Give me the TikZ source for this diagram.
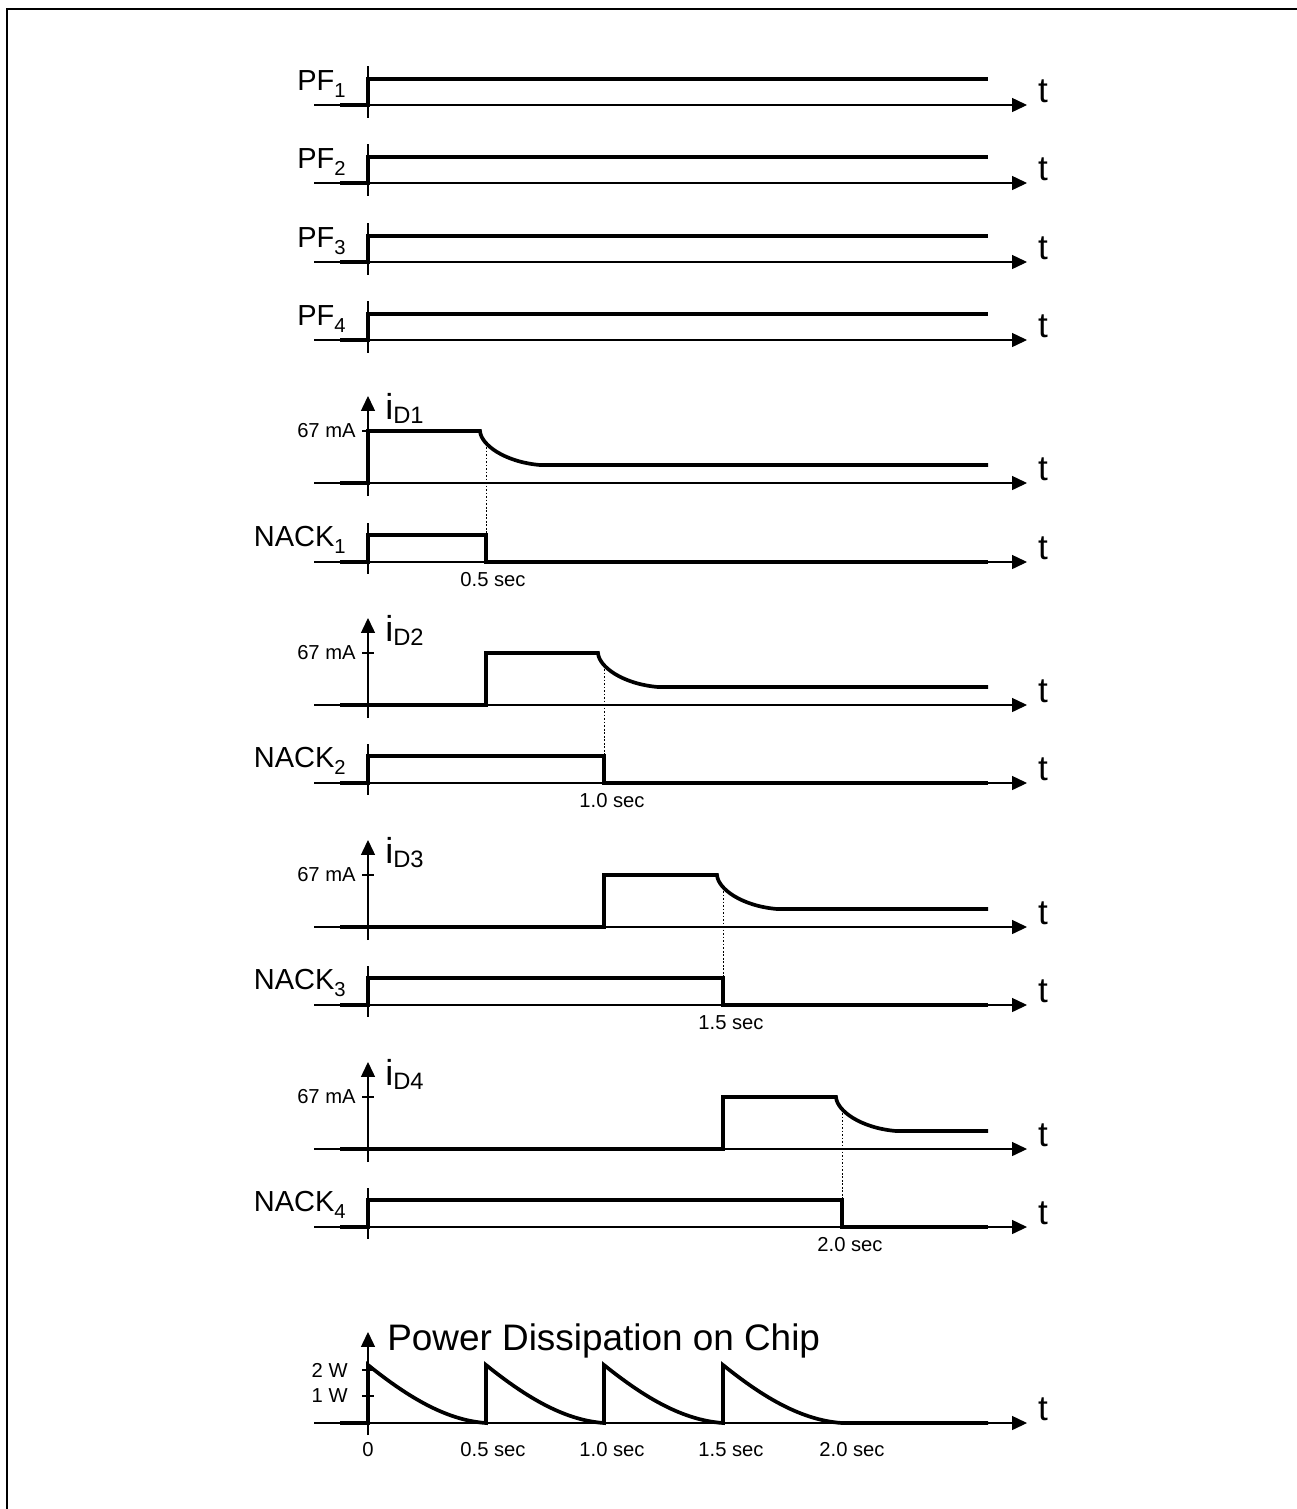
\documentclass[tikz,border=0pt]{standalone}
\usepackage{fontspec}
\setmainfont{Liberation Sans}
\usetikzlibrary{arrows.meta}

\newcommand{\lsub}[1]{\raisebox{-4.5pt}{\fontsize{11.5}{13}\selectfont #1}}
\newcommand{\cur}[1]{{\fontsize{20.5}{22}\selectfont i}\raisebox{-2.3pt}{\fontsize{13.5}{15}\selectfont D#1}}

\begin{document}
\begin{tikzpicture}[
  x=0.02cm, y=-0.02cm,
  axis/.style={line width=0.6pt, -{Triangle[length=8.5pt,width=8pt]}},
  yline/.style={line width=0.6pt},
  sig/.style={line width=2.1pt},
  guide/.style={line width=0.5pt, dash pattern=on 1pt off 1pt},
  lbl/.style={font=\fontsize{16.5}{19}\selectfont, inner sep=0pt},
  tlbl/.style={font=\fontsize{20}{22}\selectfont, inner sep=0pt},
  small/.style={font=\fontsize{11.5}{13}\selectfont, inner sep=0pt}
]
\useasboundingbox (0,0) rectangle (1297,1509);

% ===== Frame =====
\draw[line width=1.3pt] (7,1509) -- (7,9) -- (1297,9);

% ===== PF_1 =====
\draw[axis] (314,105) -- (1027,105);
\draw[yline] (368,66) -- (368,118);
\draw[sig] (340,105) -- (368,105) -- (368,79) -- (988,79);
\node[lbl, anchor=base east] (pf1) at (346,90) {PF\lsub{1}};
\node[tlbl] (t1) at (1043,91) {t};

% ===== PF_2 =====
\draw[axis] (314,183) -- (1027,183);
\draw[yline] (368,144) -- (368,196);
\draw[sig] (340,183) -- (368,183) -- (368,157) -- (988,157);
\node[lbl, anchor=base east] (pf2) at (346,168) {PF\lsub{2}};
\node[tlbl] (t2) at (1043,169) {t};

% ===== PF_3 =====
\draw[axis] (314,262) -- (1027,262);
\draw[yline] (368,223) -- (368,275);
\draw[sig] (340,262) -- (368,262) -- (368,236) -- (988,236);
\node[lbl, anchor=base east] (pf3) at (346,247) {PF\lsub{3}};
\node[tlbl] (t3) at (1043,248) {t};

% ===== PF_4 =====
\draw[axis] (314,340) -- (1027,340);
\draw[yline] (368,301) -- (368,353);
\draw[sig] (340,340) -- (368,340) -- (368,314) -- (988,314);
\node[lbl, anchor=base east] (pf4) at (346,325) {PF\lsub{4}};
\node[tlbl] (t4) at (1043,326) {t};

% ===== i_D1 / NACK_1 =====
\draw[axis] (314,483) -- (1027,483);
\draw[axis] (368,496) -- (368,396);
\draw[yline] (362,431) -- (374,431);
\draw[sig] (340,483) -- (368,483) -- (368,431) -- (480,431)
  .. controls (481,445) and (505,462) .. (540,465) -- (988,465);
\node[small, anchor=east] (ma1) at (356,431) {67 mA};
\node[anchor=base west, inner sep=0pt] (id1) at (385,419) {\cur{1}};
\node[tlbl] (t5) at (1043,469) {t};
\draw[axis] (314,562) -- (1027,562);
\draw[yline] (368,523) -- (368,574);
\draw[sig] (340,562) -- (368,562) -- (368,535) -- (486,535) -- (486,562) -- (988,562);
\draw[guide] (486,447) -- (486,535);
\node[lbl, anchor=base east] (nack1) at (346,546) {NACK\lsub{1}};
\node[small] (sec1) at (493,580) {0.5 sec};
\node[tlbl] (t6) at (1043,548) {t};

% ===== i_D2 / NACK_2 =====
\draw[axis] (314,705) -- (1027,705);
\draw[axis] (368,718) -- (368,618);
\draw[yline] (362,653) -- (374,653);
\draw[sig] (340,705) -- (486,705) -- (486,653) -- (598,653)
  .. controls (599,667) and (623,684) .. (658,687) -- (988,687);
\node[small, anchor=east] (ma2) at (356,653) {67 mA};
\node[anchor=base west, inner sep=0pt] (id2) at (385,641) {\cur{2}};
\node[tlbl] (t7) at (1043,691) {t};
\draw[axis] (314,783) -- (1027,783);
\draw[yline] (368,744) -- (368,795);
\draw[sig] (340,783) -- (368,783) -- (368,756) -- (604,756) -- (604,783) -- (988,783);
\draw[guide] (604,669) -- (604,756);
\node[lbl, anchor=base east] (nack2) at (346,767) {NACK\lsub{2}};
\node[small] (sec2) at (612,801) {1.0 sec};
\node[tlbl] (t8) at (1043,769) {t};

% ===== i_D3 / NACK_3 =====
\draw[axis] (314,927) -- (1027,927);
\draw[axis] (368,940) -- (368,840);
\draw[yline] (362,875) -- (374,875);
\draw[sig] (340,927) -- (604,927) -- (604,875) -- (717,875)
  .. controls (718,889) and (742,906) .. (777,909) -- (988,909);
\node[small, anchor=east] (ma3) at (356,875) {67 mA};
\node[anchor=base west, inner sep=0pt] (id3) at (385,863) {\cur{3}};
\node[tlbl] (t9) at (1043,913) {t};
\draw[axis] (314,1005) -- (1027,1005);
\draw[yline] (368,966) -- (368,1017);
\draw[sig] (340,1005) -- (368,1005) -- (368,978) -- (723,978) -- (723,1005) -- (988,1005);
\draw[guide] (723,891) -- (723,978);
\node[lbl, anchor=base east] (nack3) at (346,989) {NACK\lsub{3}};
\node[small] (sec3) at (731,1023) {1.5 sec};
\node[tlbl] (t10) at (1043,991) {t};

% ===== i_D4 / NACK_4 =====
\draw[axis] (314,1149) -- (1027,1149);
\draw[axis] (368,1162) -- (368,1062);
\draw[yline] (362,1097) -- (374,1097);
\draw[sig] (340,1149) -- (723,1149) -- (723,1097) -- (836,1097)
  .. controls (837,1111) and (861,1128) .. (896,1131) -- (988,1131);
\node[small, anchor=east] (ma4) at (356,1097) {67 mA};
\node[anchor=base west, inner sep=0pt] (id4) at (385,1085) {\cur{4}};
\node[tlbl] (t11) at (1043,1135) {t};
\draw[axis] (314,1227) -- (1027,1227);
\draw[yline] (368,1188) -- (368,1239);
\draw[sig] (340,1227) -- (368,1227) -- (368,1200) -- (842,1200) -- (842,1227) -- (988,1227);
\draw[guide] (842,1113) -- (842,1200);
\node[lbl, anchor=base east] (nack4) at (346,1211) {NACK\lsub{4}};
\node[small] (sec4) at (850,1245) {2.0 sec};
\node[tlbl] (t12) at (1043,1213) {t};

% ===== Power Dissipation =====
\draw[axis] (314,1423) -- (1027,1423);
\draw[axis] (368,1435) -- (368,1332);
\draw[yline] (362,1370) -- (374,1370);
\draw[yline] (362,1396) -- (374,1396);
\draw[sig] (340,1423) -- (368,1423) -- (368,1365)
  .. controls (403,1393) and (443,1420) .. (486,1423) -- (486,1365)
  .. controls (521,1393) and (561,1420) .. (604,1423) -- (604,1365)
  .. controls (639,1393) and (679,1420) .. (723,1423) -- (723,1365)
  .. controls (758,1393) and (798,1420) .. (842,1423) -- (988,1423);
\node[font=\fontsize{21}{24}\selectfont, inner sep=0pt, anchor=base west] (title) at (387,1350) {Power Dissipation on Chip};
\node[small, anchor=east] (w2) at (348,1370) {2 W};
\node[small, anchor=east] (w1) at (348,1396) {1 W};
\node[small] (p0) at (368,1450) {0};
\node[small] (p1) at (493,1450) {0.5 sec};
\node[small] (p2) at (612,1450) {1.0 sec};
\node[small] (p3) at (731,1450) {1.5 sec};
\node[small] (p4) at (852,1450) {2.0 sec};
\node[tlbl] (t13) at (1043,1409) {t};

\end{tikzpicture}
\end{document}
